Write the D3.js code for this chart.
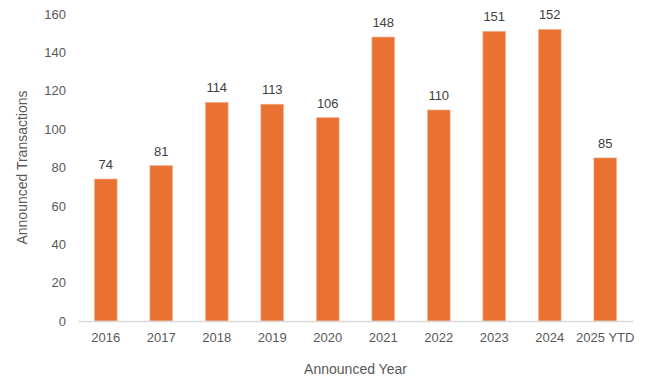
<!DOCTYPE html>
<html>
<head>
<meta charset="utf-8">
<script src="https://cdn.jsdelivr.net/npm/d3@7"></script>
<style>
  body { margin: 0; background: #fff; }
  svg text { font-family: "Liberation Sans", Arial, sans-serif; fill: #595959; }
</style>
</head>
<body>
<div id="chart"></div>
<script>
// Data
const categories = ["2016", "2017", "2018", "2019", "2020", "2021", "2022", "2023", "2024", "2025 YTD"];
const values = [74, 81, 114, 113, 106, 148, 110, 151, 152, 85];
const yTicks = [0, 20, 40, 60, 80, 100, 120, 140, 160];

const WIDTH = 649, HEIGHT = 391;
const MARGIN = { top: 14, right: 16, bottom: 70, left: 78 };
const innerW = WIDTH - MARGIN.left - MARGIN.right;
const innerH = HEIGHT - MARGIN.top - MARGIN.bottom;

const svg = d3.select("#chart").append("svg")
    .attr("width", WIDTH)
    .attr("height", HEIGHT);

const g = svg.append("g")
    .attr("transform", `translate(${MARGIN.left},${MARGIN.top})`);

const x = d3.scaleBand()
    .domain(categories)
    .range([0, innerW])
    .paddingInner(0.59)
    .paddingOuter(0.295);

const y = d3.scaleLinear()
    .domain([0, 160])
    .range([innerH, 0]);

// Bars
g.selectAll("rect.bar")
    .data(values)
    .join("rect")
    .attr("class", "bar")
    .attr("x", (d, i) => x(categories[i]))
    .attr("y", d => y(d))
    .attr("width", x.bandwidth())
    .attr("height", d => innerH - y(d))
    .attr("fill", "#E97132")
    .attr("stroke", "#F4B89A")
    .attr("stroke-width", 0.6);

// Value labels
g.selectAll("text.val")
    .data(values)
    .join("text")
    .attr("class", "val")
    .attr("x", (d, i) => x(categories[i]) + x.bandwidth() / 2)
    .attr("y", d => y(d) - 10)
    .attr("text-anchor", "middle")
    .style("font-size", "13px")
    .style("fill", "#404040")
    .text(d => d);

// Y axis
const yAxis = g.append("g")
    .call(d3.axisLeft(y).tickValues(yTicks).tickSize(0).tickPadding(12));
yAxis.select(".domain").remove();
yAxis.selectAll("text").style("font-size", "13px").style("fill", "#595959");

// X axis
const xAxis = g.append("g")
    .attr("transform", `translate(0,${innerH})`)
    .call(d3.axisBottom(x).tickSize(0).tickPadding(12));
xAxis.select(".domain").attr("stroke", "#d9d9d9").attr("stroke-width", 1.5);
xAxis.selectAll("text").style("font-size", "13px").style("fill", "#595959");

// Axis titles
svg.append("text")
    .attr("x", MARGIN.left + innerW / 2)
    .attr("y", 374)
    .attr("text-anchor", "middle")
    .style("font-size", "14px")
    .text("Announced Year");

svg.append("text")
    .attr("transform", `translate(27,${MARGIN.top + innerH / 2}) rotate(-90)`)
    .attr("text-anchor", "middle")
    .style("font-size", "14px")
    .text("Announced Transactions");
</script>
</body>
</html>
